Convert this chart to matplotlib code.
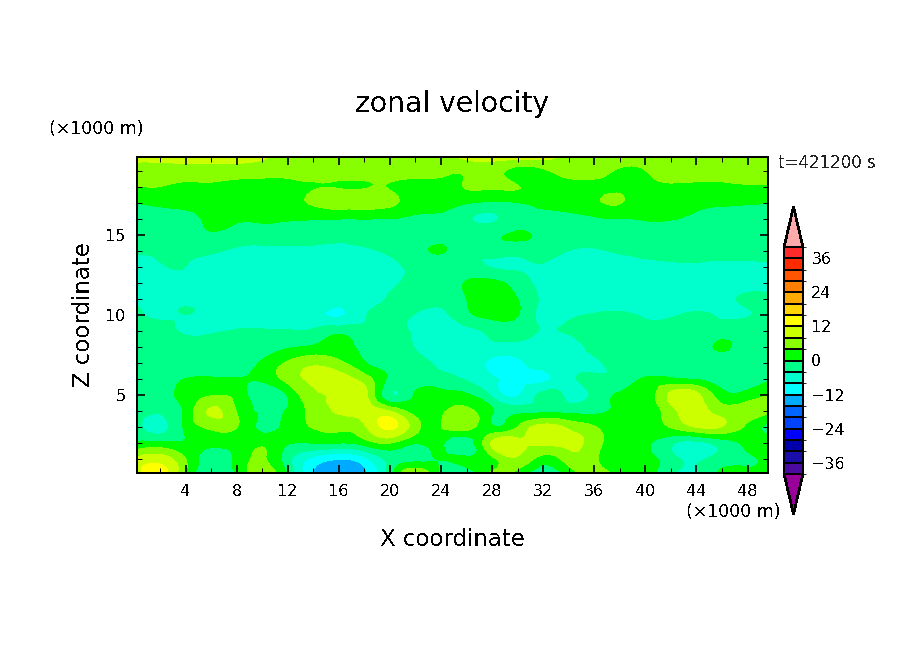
import numpy as np
import matplotlib
matplotlib.use('Agg')
import matplotlib.pyplot as plt
import matplotlib.tri as mtri
from matplotlib.colors import ListedColormap, BoundaryNorm
from matplotlib.ticker import MultipleLocator

# values, km and m/s
x_km = np.arange(0, 52, 2)
z_km = [0.1, 1, 2, 3, 4, 5, 6, 7, 8, 9, 10, 11, 12, 13, 14, 15, 16, 17, 18, 19, 19.9]

u_z00 = [9, 14, 3.8, -3, 0.5, 6, -0.5, -12.5, -15, -13, -2, 8, -1.5, -2, 5, 2.5, -2, 2, 6, 3, 1.5, -3, -4.5, 1, 0.5, 2]
u_z01 = [8, 10, 4, -2, 1, 4.5, -2.5, -9, -11.5, -9, -2.5, -1, 0.3, 0.5, 3, 7.5, 2.5, 6, 5, 0.5, 1, -2.5, -5, -2, -0.5, 1.5]
u_z02 = [0.3, 0.5, 0.3, 1, 1, 3, 0.5, 0.3, 0.3, 2, 4.5, 0.5, 0.8, -2.5, 8.5, 9, 9, 9, 6, 1, 0.5, -3, -5, -2, 1, 2]
u_z03 = [-2, -5.5, 0.8, 5, 4.2, -1, 1.5, 4.2, 5, 7.5, 13, 5.5, 4, 6, 0.5, 4, 9.5, 7, 4.2, 1, 1, 4.5, 8.5, 8, 3, -2]
u_z04 = [-2, -3.5, 1, 8.5, 3.8, -1, 0.5, 5.5, 8.5, 10, 7.5, 2, 3, 5, 0.3, -1.5, -1, -1.5, -1, 0.5, 1, 6.5, 10, 6, 6, 4.5]
u_z05 = [-2, -2.5, 2, 3.5, 2.5, -3, 0.5, 7, 9.5, 9.5, -3.5, 0.5, 1.5, 0.5, -5, -8.5, -3, -5, -3, 0.5, 1.5, 9, 9, 1.5, 1.5, 4.5]
u_z06 = [-2.5, -2, 0, 0.3, 0.3, 1, 5.5, 9, 9.5, 6, -1, -3, -3, -4.5, -7.5, -9, -9, -5, -3.5, -2.5, 0.3, 0.5, -0.5, -3, -2.5, -0.2]
u_z07 = [-2.5, -2.5, -2.5, -2.5, -2.5, 0.5, 4.5, 7, 5, 0.3, -3, -3, -5, -6, -9, -9, -5.5, -5, -4.5, -3, -3, -2.5, -2.5, -2.5, -2.5, -2.5]
u_z08 = [-3, -3, -2.5, -2.5, -2.5, -2, -0.5, 0.5, 1.5, -1, -2.5, -4.2, -6, -6, -5, -5, -5, -5.5, -3, -3, -3, -3, -2.5, 0.5, -2, -1]
u_z09 = [-3, -3, -4.5, -4.5, -3.8, -3.7, -3.8, -3.5, -1.5, -3, -3, -4.5, -5.5, -5, -3, -2.5, -4.2, -3.5, -3, -3, -3, -2.5, -2.5, -2, -2, -2]
u_z10 = [-3, -4.5, -4, -5, -5.5, -6, -6, -6.5, -8.5, -4.5, -3, -4.2, -5, -1, 1.2, 0.2, -5.5, -5, -3.8, -3.5, -4.5, -4.5, -3.5, -4.5, -4.2, -3]
u_z11 = [-4.5, -5, -4.5, -5, -5.5, -6, -6, -6, -6, -6, -3.5, -2, -2.5, 0, 1.5, 0, -4.8, -6, -6, -6, -6, -6, -6, -5, -3.5, -3.5]
u_z12 = [-5, -5.5, -4.5, -5.5, -6, -6, -6, -6, -6, -6, -5, -2.5, -2, 0.3, 1, -2, -5, -6, -6, -6, -6, -6, -5.5, -5.5, -5.5, -5.5]
u_z13 = [-5.5, -4.3, -4, -5, -5.5, -5.5, -5.5, -5.5, -5.5, -5.5, -5, -3, -2.5, -2.5, -4.2, -4.5, -4.2, -5.5, -6, -5.5, -5, -4.8, -4.5, -5, -5, -5]
u_z14 = [-3.5, -3.5, -3.5, -3.5, -4.6, -5, -5, -5, -5, -4.5, -3.5, -1.5, 0.3, -2, -2, -2.5, -2.5, -4, -4.5, -3.5, -3, -2.5, -2.5, -2.5, -2.5, -2.5]
u_z15 = [-2.5, -2.5, -2, -0.5, -1.5, -1.5, -1.5, -2, -3, -2.5, -2.5, -2, -2, -1.5, -1, 0.4, -1, -1.5, -2, -2, -2, -2, -2, -2, -2, -2]
u_z16 = [-2, -2, -1.5, 0.8, 0.5, 0.5, 0.3, 0.3, 0.2, 0.2, 0, -1, -1.5, -3.5, -4.5, -2, -1.5, -1.5, -0.5, 0, 0.4, 0.3, -1, -1.5, -1.5, -1.5]
u_z17 = [0, 1, 1.5, 2, 2.5, 2.5, 2.5, 4.5, 5.5, 5.5, 4.8, 2.5, 2, 0.5, -0.5, 0, 1.5, 2.5, 3.5, 4.2, 2, 2, 1, 0.5, 0.3, 0.2]
u_z18 = [4, 4, 3.5, 3.5, 3, 2.5, 2.5, 3.8, 3.8, 3.8, 3.8, 2.5, 3, 4.2, 4.3, 4.1, 3, 3, 3, 3, 3, 3.5, 3, 3, 3.5, 3.5]
u_z19 = [6, 6, 6, 6, 6, 6, 6, 6, 6, 6, 6, 6, 5, 4.5, 5, 3, 3.5, 5.5, 6, 3.5, 4, 6, 6, 6, 6, 6]
u_z20 = [10, 10, 10.5, 10, 10, 8.5, 7, 6.5, 6, 6, 6, 6, 6, 10, 10.5, 10.5, 10, 6.5, 7, 6.5, 6, 6, 6, 7, 6, 6]

levels = np.arange(-40, 44, 4)
band_colors = ['#4b0aa0', '#1a0daa', '#0000aa', '#0000ff', '#0044ff', '#0066ff', '#00aaff',
               '#00ffff', '#00ffcc', '#00ff88', '#00ff00', '#88ff00', '#ccff00', '#ffff00',
               '#ffd400', '#ffaa00', '#ff7f00', '#ff5500', '#ff2a00', '#ff2a2a']
bar_ticks = [-36, -24, -12, 0, 12, 24, 36]

plt.rcParams['text.antialiased'] = False
plt.rcParams['lines.antialiased'] = False
plt.rcParams['patch.antialiased'] = False

W, H = 904, 654

def box(left, top, right, bottom):
    return [left / W, 1 - bottom / H, (right - left) / W, (bottom - top) / H]

fig = plt.figure(figsize=(W / 100, H / 100), dpi=100)
ax = fig.add_axes(box(137, 157, 768, 473))

u = np.array([u_z00, u_z01, u_z02, u_z03, u_z04, u_z05, u_z06, u_z07, u_z08, u_z09, u_z10,
              u_z11, u_z12, u_z13, u_z14, u_z15, u_z16, u_z17, u_z18, u_z19, u_z20])

cmap = ListedColormap(band_colors)
cmap.set_over('#ffaaaa')
cmap.set_under('#990099')
norm = BoundaryNorm(levels, cmap.N)

# smooth the contours: the read-off grid is coarse
xx, zz = np.meshgrid(x_km, z_km)
tri = mtri.Triangulation(xx.ravel(), zz.ravel())
refiner = mtri.UniformTriRefiner(tri)
fine_tri, fine_u = refiner.refine_field(u.ravel(), subdiv=3)
cs = ax.tricontourf(fine_tri, fine_u, levels=levels, cmap=cmap, norm=norm, extend='both', antialiased=False)

ax.set_xlim(0.2, 49.6)
ax.set_ylim(0.1, 19.85)
ax.xaxis.set_major_locator(MultipleLocator(4))
ax.xaxis.set_minor_locator(MultipleLocator(2))
ax.yaxis.set_major_locator(MultipleLocator(5))
ax.yaxis.set_minor_locator(MultipleLocator(1))
ax.tick_params(which='major', direction='in', length=6, width=1.2, top=True, right=True, labelsize=11.5, pad=8, color='black')
ax.tick_params(which='minor', direction='in', length=3.5, width=0.7, top=True, right=True)
for s in ax.spines.values():
    s.set_linewidth(1.2)

fig.text(452 / W, 1 - 104 / H, 'zonal velocity', ha='center', va='center', fontsize=20.3)
fig.text(452 / W, 1 - 539 / H, 'X coordinate', ha='center', va='center', fontsize=16.5)
fig.text(83 / W, 1 - 315 / H, 'Z coordinate', ha='center', va='center', rotation=90, fontsize=16.5)
fig.text(96 / W, 1 - 129 / H, '(×1000 m)', ha='center', va='center', fontsize=12.5)
fig.text(733 / W, 1 - 512 / H, '(×1000 m)', ha='center', va='center', fontsize=12.5)
fig.text(778 / W, 1 - 163 / H, 't=421200 s', ha='left', va='center', fontsize=12, color='#222222')

cax = fig.add_axes(box(784, 207, 803, 514))
cb = fig.colorbar(cs, cax=cax, extend='both', extendfrac=40 / 226, drawedges=True, ticks=bar_ticks)
cb.ax.tick_params(length=0, labelsize=11.5, pad=6)
cb.dividers.set_linewidth(1.2)
cb.outline.set_linewidth(1.2)

fig.savefig('out.png', dpi=100)
